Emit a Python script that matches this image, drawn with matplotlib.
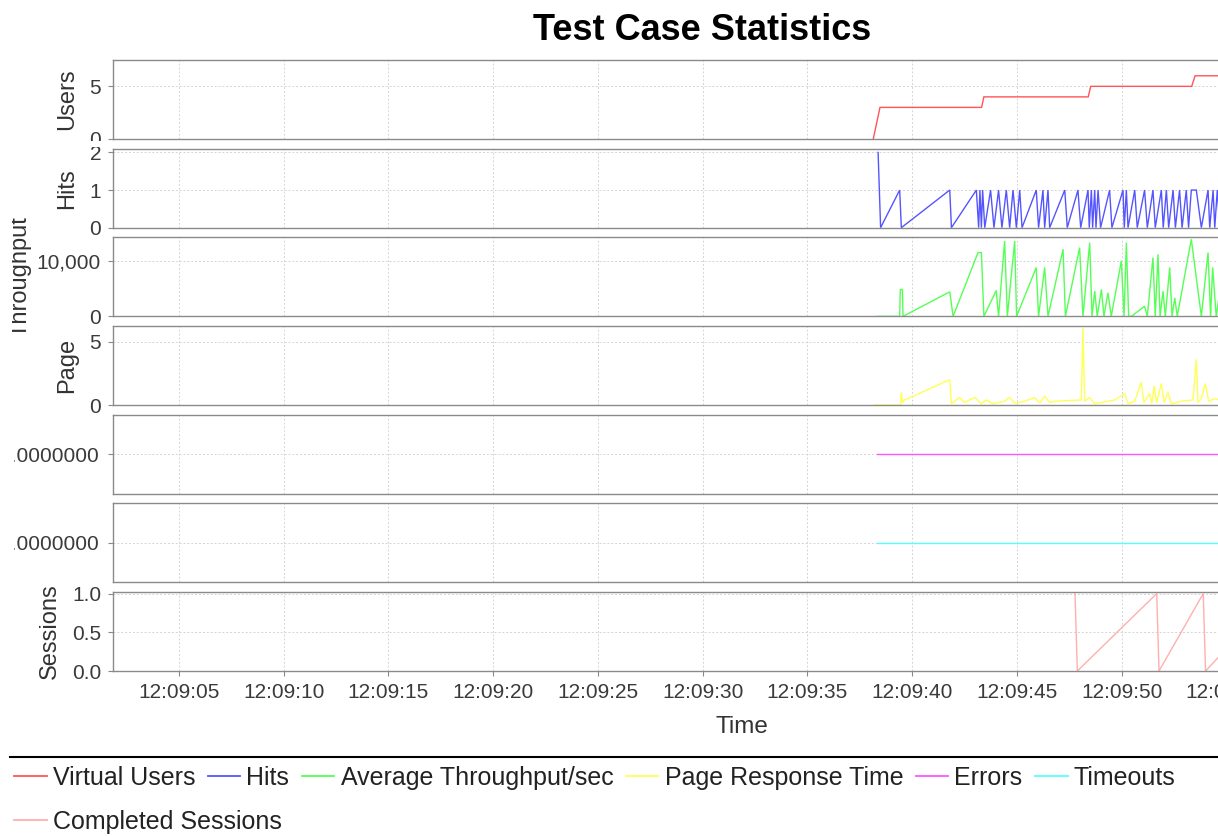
import matplotlib
matplotlib.use('Agg')
import matplotlib.pyplot as plt
from matplotlib.lines import Line2D
from matplotlib.ticker import FuncFormatter
from matplotlib.transforms import Bbox

plt.rcParams['font.family'] = ['Liberation Sans', 'DejaVu Sans']

# ---------------- data (time in seconds after 12:09:00) ----------------
users_t = [38.14, 38.46, 43.31, 43.42, 48.40, 48.52, 53.34, 53.50, 56.0]
users_v = [0, 3, 3, 4, 4, 5, 5, 6, 6]

hits_t = [38.37, 38.49, 39.40, 39.48, 41.79, 41.87, 43.06, 43.17, 43.23, 43.30,
          43.36, 43.46, 43.74, 43.90, 44.12, 44.28, 44.49, 44.65, 44.81, 44.97,
          45.13, 45.24, 45.92, 46.03, 46.24, 46.32, 46.48, 46.56, 47.28, 47.40,
          47.91, 48.04, 48.39, 48.45, 48.55, 48.61, 48.71, 48.77, 48.87, 48.99,
          49.42, 49.53, 50.06, 50.12, 50.22, 50.30, 50.62, 50.74, 51.09, 51.22,
          51.49, 51.60, 51.89, 51.98, 52.13, 52.24, 52.45, 52.56, 52.76, 52.88,
          53.08, 53.19, 53.32, 53.56, 53.80, 54.12, 54.20, 54.36, 54.44, 54.56,
          54.68]
hits_v = [2, 0, 1, 0, 1, 0, 1, 0, 1, 0,
          1, 0, 1, 0, 1, 0, 1, 0, 1, 0,
          1, 0, 1, 0, 1, 0, 1, 0, 1, 0,
          1, 0, 1, 0, 1, 0, 1, 0, 1, 0,
          1, 0, 1, 0, 1, 0, 1, 0, 1, 0,
          1, 0, 1, 0, 1, 0, 1, 0, 1, 0,
          1, 0, 1, 1, 0, 1, 0, 1, 0, 1,
          0]

thr_t = [38.32, 39.40, 39.43, 39.53, 39.56, 41.79, 41.95, 43.14, 43.30, 43.42,
         44.01, 44.12, 44.41, 44.54, 44.89, 44.98, 45.92, 46.03, 46.32, 46.48,
         47.20, 47.31, 47.99, 48.15, 48.47, 48.58, 48.71, 48.83, 49.03, 49.15,
         49.34, 49.50, 49.98, 50.11, 50.22, 50.33, 50.46, 51.09, 51.22, 51.49,
         51.60, 51.73, 51.83, 51.97, 52.08, 52.29, 52.40, 52.53, 52.65, 53.32,
         53.80, 54.12, 54.24, 54.34, 54.51, 54.70]
thr_v = [0, 0, 4850, 4850, 0, 4420, 0, 11500, 11500, 0,
         4670, 0, 13600, 0, 13600, 0, 8800, 0, 8800, 0,
         12100, 0, 12400, 0, 13300, 0, 4550, 0, 4850, 0,
         4240, 0, 10000, 0, 13300, 0, 0, 1820, 0, 10600,
         0, 11200, 0, 4550, 0, 8800, 0, 3330, 0, 13900,
         0, 11500, 0, 8800, 0, 5000]

page_t = [38.21, 39.45, 39.48, 39.54, 39.64, 41.79, 41.87, 42.26, 42.50, 42.98,
          43.30, 43.54, 43.85, 44.41, 44.65, 44.89, 45.37, 45.84, 46.08, 46.32,
          46.56, 46.80, 48.07, 48.15, 48.23, 48.47, 48.71, 49.03, 49.66, 50.14,
          50.30, 50.62, 50.93, 51.06, 51.33, 51.44, 51.54, 51.67, 51.89, 52.02,
          52.21, 52.37, 52.84, 53.40, 53.56, 53.64, 53.80, 53.99, 54.15, 54.44,
          54.70]
page_v = [0, 0, 1.0, 0.2, 0.4, 2.0, 0.1, 0.6, 0.2, 0.6,
          0.1, 0.4, 0.1, 0.3, 0.6, 0.15, 0.3, 0.6, 0.15, 0.7,
          0.2, 0.3, 0.4, 6.1, 0.3, 0.6, 0.1, 0.2, 0.4, 0.9,
          0.1, 0.3, 1.8, 0.2, 0.9, 0.1, 1.5, 0.2, 1.7, 0.2,
          1.0, 0.1, 0.3, 0.4, 3.6, 0.2, 0.5, 1.7, 0.3, 0.5,
          0.4]

err_t = [38.32, 56.0]
err_v = [0, 0]

tmo_t = [38.32, 56.0]
tmo_v = [0, 0]

ses_t = [47.77, 47.88, 51.67, 51.78, 53.89, 54.00, 54.62]
ses_v = [1, 0, 1, 0, 1, 0, 0.18]

series_names = ['Virtual Users', 'Hits', 'Average Throughput/sec',
                'Page Response Time', 'Errors', 'Timeouts', 'Completed Sessions']
axis_labels = ['Users', 'Hits', 'Throughput', 'Page', '', '', 'Sessions']
y_ticks = [[0, 5], [0, 1, 2], [0, 10000], [0, 5], [0], [0], [0, 0.5, 1.0]]
y_limits = [(0, 7.5), (0, 2.1), (0, 14250), (0, 6.24), (-1, 1), (-1, 1), (0, 1.02)]
y_formats = ['{:.0f}', '{:.0f}', '{:,.0f}', '{:.0f}', '{:.7f}', '{:.7f}', '{:.1f}']
x_ticks = [5, 10, 15, 20, 25, 30, 35, 40, 45, 50, 55]
title = 'Test Case Statistics'
x_label = 'Time'

colors = ['#ff5555', '#5555ff', '#55ff55', '#ffff55', '#ff55ff', '#55ffff', '#ffafaf']

series = [(users_t, users_v), (hits_t, hits_v), (thr_t, thr_v), (page_t, page_v),
          (err_t, err_v), (tmo_t, tmo_v), (ses_t, ses_v)]

# ---------------- layout ----------------
W, H = 1218, 836
fig = plt.figure(figsize=(W / 100, H / 100), dpi=100)
fig.patch.set_facecolor('white')

left_px, right_px = 113, 1370
top0, step, hgt = 60, 88.67, 79
clip = Bbox.from_extents(12, 0, W, H)
clip_zero = Bbox.from_extents(13.5, 0, W, H)
# per-panel clip areas for tick labels (display coords, y upward)
label_clips = [Bbox.from_extents(12, H - 141, W, H),
               Bbox.from_extents(12, 0, W, H - 147),
               clip, clip, clip_zero, clip_zero, clip]

tick_col = '#3a3a3a'
spine_col = '#8a8a8a'

axes = []
for i, ((t, v), col) in enumerate(zip(series, colors)):
    top = top0 + i * step
    ax = fig.add_axes([left_px / W, 1 - (top + hgt) / H, (right_px - left_px) / W, hgt / H])
    axes.append(ax)
    ax.plot(t, v, color=col, lw=1.0, solid_joinstyle='miter')
    ax.set_xlim(1.85, 61.85)
    ax.set_ylim(*y_limits[i])
    ax.set_xticks(x_ticks)
    ax.set_yticks(y_ticks[i])
    fmt = y_formats[i]
    ax.yaxis.set_major_formatter(FuncFormatter(lambda val, pos, f=fmt: f.format(val)))
    ax.xaxis.set_major_formatter(FuncFormatter(lambda val, pos: '12:09:%02d' % int(round(val))))
    ax.grid(True, color='#d4d4d4', linestyle=(0, (2, 2)), linewidth=0.7)
    ax.set_axisbelow(True)
    for s in ax.spines.values():
        s.set_color(spine_col)
        s.set_linewidth(1.0)
    ax.tick_params(axis='y', direction='out', length=3.6, width=0.8, color=spine_col,
                   labelsize=15, labelcolor=tick_col, pad=(6.5 if i in (4, 5) else 5))
    if i < 6:
        ax.tick_params(axis='x', length=0, labelbottom=False)
    else:
        ax.tick_params(axis='x', direction='out', length=3.6, width=0.8, color=spine_col,
                       labelsize=15, labelcolor=tick_col, pad=5)
        ax.set_xlabel(x_label, fontsize=17.5, color='#333333', labelpad=10)
    if axis_labels[i]:
        ax.set_ylabel(axis_labels[i], fontsize=17, color='#333333',
                      labelpad=(4 if i == 2 else 8))

fig.text(702 / W, 1 - 30 / H, title, ha='center', va='center',
         fontsize=26, fontweight='bold', color='black')

# legend separator line
fig.add_artist(Line2D([10 / W, 1.0], [1 - 757 / H, 1 - 757 / H],
                      transform=fig.transFigure, color='black', lw=1.5))

handles = [Line2D([], [], color=c, lw=1.3) for c in colors]
leg_kw = dict(frameon=False, borderpad=0, borderaxespad=0, handlelength=1.3,
              handletextpad=0.25, columnspacing=0.5, fontsize=18, labelcolor='#222222')
fig.legend(handles[:6], series_names[:6], loc='center left',
           bbox_to_anchor=(14 / W, 1 - 778 / H), ncol=6, **leg_kw)
fig.legend(handles[6:], series_names[6:], loc='center left',
           bbox_to_anchor=(14 / W, 1 - 822 / H), ncol=1, **leg_kw)

fig.canvas.draw()
for ax, cb in zip(axes, label_clips):
    for lab in ax.get_yticklabels():
        lab.set_clip_on(True)
        lab.set_clip_box(cb)
    ax.yaxis.label.set_clip_on(True)
    ax.yaxis.label.set_clip_box(clip)

fig.savefig('out.png', dpi=100)
